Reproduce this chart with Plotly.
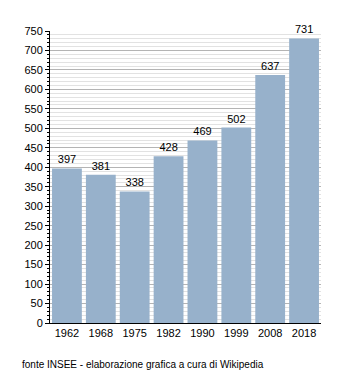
import plotly.graph_objects as go

years = ["1962", "1968", "1975", "1982", "1990", "1999", "2008", "2018"]
population = [397, 381, 338, 428, 469, 502, 637, 731]
y_ticks = list(range(0, 751, 50))
source_note = "fonte INSEE - elaborazione grafica a cura di Wikipedia"

fig = go.Figure(go.Bar(
    x=years, y=population,
    marker=dict(color="#97b1cb", line=dict(width=0)),
    text=[str(v) for v in population], textposition="outside",
    textfont=dict(family="Liberation Sans, Arial", size=11, color="#000"),
    cliponaxis=False, width=0.88,
))

fig.update_layout(
    width=350, height=373,
    margin=dict(l=50, r=29, t=31, b=50),
    paper_bgcolor="white", plot_bgcolor="white",
    font=dict(family="Liberation Sans, Arial", size=11, color="#000"),
    showlegend=False,
    xaxis=dict(showline=True, linecolor="#000", linewidth=1, ticks="",
               showgrid=False, tickfont=dict(size=11)),
    yaxis=dict(range=[0, 750], tickvals=y_ticks, showline=True, linecolor="#000",
               linewidth=1, ticks="outside", ticklen=4, tickcolor="#000",
               gridcolor="#b4b4b4", gridwidth=1, zeroline=False,
               minor=dict(dtick=10, ticks="outside", ticklen=2, tickcolor="#000",
                          showgrid=True, gridcolor="#e2e2e2", gridwidth=1),
               tickfont=dict(size=11)),
    annotations=[dict(text=source_note, xref="paper", yref="paper",
                      x=-30/271, y=-0.117, xanchor="left", yanchor="top",
                      showarrow=False, font=dict(size=10))],
)

fig.write_html("out.html")
